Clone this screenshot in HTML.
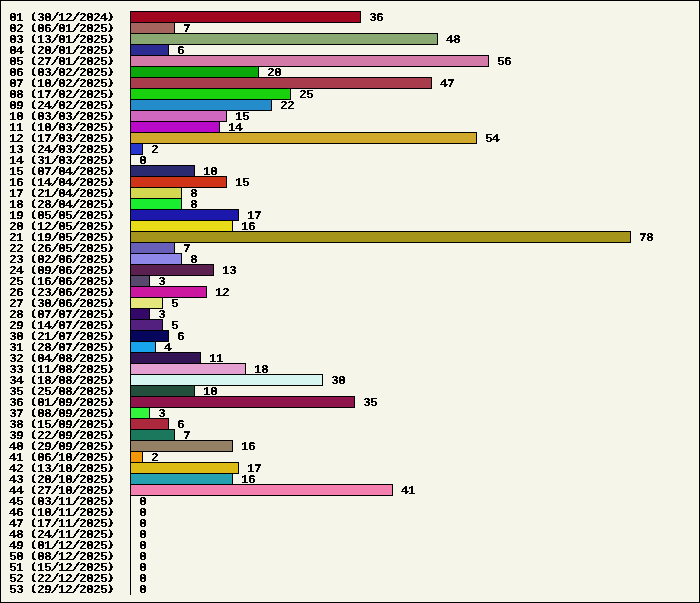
<!DOCTYPE html>
<html><head><meta charset="utf-8"><title>chart</title>
<style>
html,body{margin:0;padding:0;}
body{width:700px;height:603px;overflow:hidden;background:#f6f5e9;}
#c{position:absolute;left:0;top:0;width:700px;height:603px;box-sizing:border-box;border:1px solid #000;background:#f6f5e9;overflow:hidden;}
.b{position:absolute;left:129px;height:12px;box-sizing:border-box;border:1px solid #000;}
  .z{width:1px;border:0;background:#000;}
#tx{position:absolute;left:0;top:0;width:698px;height:601px;filter:url(#thr);}
.t,.v{position:absolute;font-family:"Liberation Mono", "DejaVu Sans Mono", monospace;font-weight:bold;font-size:12px;line-height:13px;height:13px;letter-spacing:-0.7397px;color:#000;white-space:pre;transform-origin:0 0;transform:scaleX(1.08333);text-rendering:geometricPrecision;}
.t{left:8px;}
.p{display:inline-block;transform-origin:50% 2px;transform:scale(1.2,.75);}
.q{transform:translateX(-1px) scale(1.2,.75);}
.s{display:inline-block;transform:scaleX(1.25);}
</style></head><body>
<svg width="0" height="0" style="position:absolute"><defs><filter id="thr" x="0" y="0" width="100%" height="100%" color-interpolation-filters="sRGB"><feComponentTransfer><feFuncA type="discrete" tableValues="0 0 1 1 1"/></feComponentTransfer></filter></defs></svg>
<div id="c">
<div class="b" style="top:10px;width:231px;background:#a0071e"></div>
<div class="b" style="top:21px;width:45px;background:#a5645e"></div>
<div class="b" style="top:32px;width:308px;background:#8aa872"></div>
<div class="b" style="top:43px;width:39px;background:#2b2b92"></div>
<div class="b" style="top:54px;width:359px;background:#d47aa8"></div>
<div class="b" style="top:65px;width:129px;background:#0aa80a"></div>
<div class="b" style="top:76px;width:302px;background:#a83c4c"></div>
<div class="b" style="top:87px;width:161px;background:#1ad10e"></div>
<div class="b" style="top:98px;width:142px;background:#258ccc"></div>
<div class="b" style="top:109px;width:97px;background:#d068c0"></div>
<div class="b" style="top:120px;width:90px;background:#b80ac8"></div>
<div class="b" style="top:131px;width:347px;background:#d0a82c"></div>
<div class="b" style="top:142px;width:13px;background:#2836d0"></div>
<div class="b z" style="top:153px"></div>
<div class="b" style="top:164px;width:65px;background:#2a2a70"></div>
<div class="b" style="top:175px;width:97px;background:#d03418"></div>
<div class="b" style="top:186px;width:52px;background:#d4d850"></div>
<div class="b" style="top:197px;width:52px;background:#1aec30"></div>
<div class="b" style="top:208px;width:109px;background:#1c18ac"></div>
<div class="b" style="top:219px;width:103px;background:#e8dc18"></div>
<div class="b" style="top:230px;width:501px;background:#a4941c"></div>
<div class="b" style="top:241px;width:45px;background:#6860b8"></div>
<div class="b" style="top:252px;width:52px;background:#9088e8"></div>
<div class="b" style="top:263px;width:84px;background:#5c2050"></div>
<div class="b" style="top:274px;width:20px;background:#58486e"></div>
<div class="b" style="top:285px;width:77px;background:#cc18a0"></div>
<div class="b" style="top:296px;width:33px;background:#e4e87c"></div>
<div class="b" style="top:307px;width:20px;background:#340868"></div>
<div class="b" style="top:318px;width:33px;background:#542080"></div>
<div class="b" style="top:329px;width:39px;background:#06065c"></div>
<div class="b" style="top:340px;width:26px;background:#18a4ec"></div>
<div class="b" style="top:351px;width:71px;background:#321454"></div>
<div class="b" style="top:362px;width:116px;background:#e4a0d0"></div>
<div class="b" style="top:373px;width:193px;background:#d6f7f1"></div>
<div class="b" style="top:384px;width:65px;background:#22503c"></div>
<div class="b" style="top:395px;width:225px;background:#90144c"></div>
<div class="b" style="top:406px;width:20px;background:#32f43c"></div>
<div class="b" style="top:417px;width:39px;background:#ac283c"></div>
<div class="b" style="top:428px;width:45px;background:#1c785c"></div>
<div class="b" style="top:439px;width:103px;background:#948064"></div>
<div class="b" style="top:450px;width:13px;background:#f09808"></div>
<div class="b" style="top:461px;width:109px;background:#dcbc14"></div>
<div class="b" style="top:472px;width:103px;background:#24a0b0"></div>
<div class="b" style="top:483px;width:263px;background:#f480b0"></div>
<div class="b z" style="top:494px"></div>
<div class="b z" style="top:505px"></div>
<div class="b z" style="top:516px"></div>
<div class="b z" style="top:527px"></div>
<div class="b z" style="top:538px"></div>
<div class="b z" style="top:549px"></div>
<div class="b z" style="top:560px"></div>
<div class="b z" style="top:571px"></div>
<div class="b z" style="top:582px"></div>
<div id="tx">
<div class="t" style="top:11px">01 <span class=p>(</span>30<span class=s>/</span>12<span class=s>/</span>2024<span class='p q'>)</span></div><div class="v" style="top:11px;left:368px">36</div>
<div class="t" style="top:22px">02 <span class=p>(</span>06<span class=s>/</span>01<span class=s>/</span>2025<span class='p q'>)</span></div><div class="v" style="top:22px;left:182px">7</div>
<div class="t" style="top:33px">03 <span class=p>(</span>13<span class=s>/</span>01<span class=s>/</span>2025<span class='p q'>)</span></div><div class="v" style="top:33px;left:445px">48</div>
<div class="t" style="top:44px">04 <span class=p>(</span>20<span class=s>/</span>01<span class=s>/</span>2025<span class='p q'>)</span></div><div class="v" style="top:44px;left:176px">6</div>
<div class="t" style="top:55px">05 <span class=p>(</span>27<span class=s>/</span>01<span class=s>/</span>2025<span class='p q'>)</span></div><div class="v" style="top:55px;left:496px">56</div>
<div class="t" style="top:66px">06 <span class=p>(</span>03<span class=s>/</span>02<span class=s>/</span>2025<span class='p q'>)</span></div><div class="v" style="top:66px;left:266px">20</div>
<div class="t" style="top:77px">07 <span class=p>(</span>10<span class=s>/</span>02<span class=s>/</span>2025<span class='p q'>)</span></div><div class="v" style="top:77px;left:439px">47</div>
<div class="t" style="top:88px">08 <span class=p>(</span>17<span class=s>/</span>02<span class=s>/</span>2025<span class='p q'>)</span></div><div class="v" style="top:88px;left:298px">25</div>
<div class="t" style="top:99px">09 <span class=p>(</span>24<span class=s>/</span>02<span class=s>/</span>2025<span class='p q'>)</span></div><div class="v" style="top:99px;left:279px">22</div>
<div class="t" style="top:110px">10 <span class=p>(</span>03<span class=s>/</span>03<span class=s>/</span>2025<span class='p q'>)</span></div><div class="v" style="top:110px;left:234px">15</div>
<div class="t" style="top:121px">11 <span class=p>(</span>10<span class=s>/</span>03<span class=s>/</span>2025<span class='p q'>)</span></div><div class="v" style="top:121px;left:227px">14</div>
<div class="t" style="top:132px">12 <span class=p>(</span>17<span class=s>/</span>03<span class=s>/</span>2025<span class='p q'>)</span></div><div class="v" style="top:132px;left:484px">54</div>
<div class="t" style="top:143px">13 <span class=p>(</span>24<span class=s>/</span>03<span class=s>/</span>2025<span class='p q'>)</span></div><div class="v" style="top:143px;left:150px">2</div>
<div class="t" style="top:154px">14 <span class=p>(</span>31<span class=s>/</span>03<span class=s>/</span>2025<span class='p q'>)</span></div><div class="v" style="top:154px;left:138px">0</div>
<div class="t" style="top:165px">15 <span class=p>(</span>07<span class=s>/</span>04<span class=s>/</span>2025<span class='p q'>)</span></div><div class="v" style="top:165px;left:202px">10</div>
<div class="t" style="top:176px">16 <span class=p>(</span>14<span class=s>/</span>04<span class=s>/</span>2025<span class='p q'>)</span></div><div class="v" style="top:176px;left:234px">15</div>
<div class="t" style="top:187px">17 <span class=p>(</span>21<span class=s>/</span>04<span class=s>/</span>2025<span class='p q'>)</span></div><div class="v" style="top:187px;left:189px">8</div>
<div class="t" style="top:198px">18 <span class=p>(</span>28<span class=s>/</span>04<span class=s>/</span>2025<span class='p q'>)</span></div><div class="v" style="top:198px;left:189px">8</div>
<div class="t" style="top:209px">19 <span class=p>(</span>05<span class=s>/</span>05<span class=s>/</span>2025<span class='p q'>)</span></div><div class="v" style="top:209px;left:246px">17</div>
<div class="t" style="top:220px">20 <span class=p>(</span>12<span class=s>/</span>05<span class=s>/</span>2025<span class='p q'>)</span></div><div class="v" style="top:220px;left:240px">16</div>
<div class="t" style="top:231px">21 <span class=p>(</span>19<span class=s>/</span>05<span class=s>/</span>2025<span class='p q'>)</span></div><div class="v" style="top:231px;left:638px">78</div>
<div class="t" style="top:242px">22 <span class=p>(</span>26<span class=s>/</span>05<span class=s>/</span>2025<span class='p q'>)</span></div><div class="v" style="top:242px;left:182px">7</div>
<div class="t" style="top:253px">23 <span class=p>(</span>02<span class=s>/</span>06<span class=s>/</span>2025<span class='p q'>)</span></div><div class="v" style="top:253px;left:189px">8</div>
<div class="t" style="top:264px">24 <span class=p>(</span>09<span class=s>/</span>06<span class=s>/</span>2025<span class='p q'>)</span></div><div class="v" style="top:264px;left:221px">13</div>
<div class="t" style="top:275px">25 <span class=p>(</span>16<span class=s>/</span>06<span class=s>/</span>2025<span class='p q'>)</span></div><div class="v" style="top:275px;left:157px">3</div>
<div class="t" style="top:286px">26 <span class=p>(</span>23<span class=s>/</span>06<span class=s>/</span>2025<span class='p q'>)</span></div><div class="v" style="top:286px;left:214px">12</div>
<div class="t" style="top:297px">27 <span class=p>(</span>30<span class=s>/</span>06<span class=s>/</span>2025<span class='p q'>)</span></div><div class="v" style="top:297px;left:170px">5</div>
<div class="t" style="top:308px">28 <span class=p>(</span>07<span class=s>/</span>07<span class=s>/</span>2025<span class='p q'>)</span></div><div class="v" style="top:308px;left:157px">3</div>
<div class="t" style="top:319px">29 <span class=p>(</span>14<span class=s>/</span>07<span class=s>/</span>2025<span class='p q'>)</span></div><div class="v" style="top:319px;left:170px">5</div>
<div class="t" style="top:330px">30 <span class=p>(</span>21<span class=s>/</span>07<span class=s>/</span>2025<span class='p q'>)</span></div><div class="v" style="top:330px;left:176px">6</div>
<div class="t" style="top:341px">31 <span class=p>(</span>28<span class=s>/</span>07<span class=s>/</span>2025<span class='p q'>)</span></div><div class="v" style="top:341px;left:163px">4</div>
<div class="t" style="top:352px">32 <span class=p>(</span>04<span class=s>/</span>08<span class=s>/</span>2025<span class='p q'>)</span></div><div class="v" style="top:352px;left:208px">11</div>
<div class="t" style="top:363px">33 <span class=p>(</span>11<span class=s>/</span>08<span class=s>/</span>2025<span class='p q'>)</span></div><div class="v" style="top:363px;left:253px">18</div>
<div class="t" style="top:374px">34 <span class=p>(</span>18<span class=s>/</span>08<span class=s>/</span>2025<span class='p q'>)</span></div><div class="v" style="top:374px;left:330px">30</div>
<div class="t" style="top:385px">35 <span class=p>(</span>25<span class=s>/</span>08<span class=s>/</span>2025<span class='p q'>)</span></div><div class="v" style="top:385px;left:202px">10</div>
<div class="t" style="top:396px">36 <span class=p>(</span>01<span class=s>/</span>09<span class=s>/</span>2025<span class='p q'>)</span></div><div class="v" style="top:396px;left:362px">35</div>
<div class="t" style="top:407px">37 <span class=p>(</span>08<span class=s>/</span>09<span class=s>/</span>2025<span class='p q'>)</span></div><div class="v" style="top:407px;left:157px">3</div>
<div class="t" style="top:418px">38 <span class=p>(</span>15<span class=s>/</span>09<span class=s>/</span>2025<span class='p q'>)</span></div><div class="v" style="top:418px;left:176px">6</div>
<div class="t" style="top:429px">39 <span class=p>(</span>22<span class=s>/</span>09<span class=s>/</span>2025<span class='p q'>)</span></div><div class="v" style="top:429px;left:182px">7</div>
<div class="t" style="top:440px">40 <span class=p>(</span>29<span class=s>/</span>09<span class=s>/</span>2025<span class='p q'>)</span></div><div class="v" style="top:440px;left:240px">16</div>
<div class="t" style="top:451px">41 <span class=p>(</span>06<span class=s>/</span>10<span class=s>/</span>2025<span class='p q'>)</span></div><div class="v" style="top:451px;left:150px">2</div>
<div class="t" style="top:462px">42 <span class=p>(</span>13<span class=s>/</span>10<span class=s>/</span>2025<span class='p q'>)</span></div><div class="v" style="top:462px;left:246px">17</div>
<div class="t" style="top:473px">43 <span class=p>(</span>20<span class=s>/</span>10<span class=s>/</span>2025<span class='p q'>)</span></div><div class="v" style="top:473px;left:240px">16</div>
<div class="t" style="top:484px">44 <span class=p>(</span>27<span class=s>/</span>10<span class=s>/</span>2025<span class='p q'>)</span></div><div class="v" style="top:484px;left:400px">41</div>
<div class="t" style="top:495px">45 <span class=p>(</span>03<span class=s>/</span>11<span class=s>/</span>2025<span class='p q'>)</span></div><div class="v" style="top:495px;left:138px">0</div>
<div class="t" style="top:506px">46 <span class=p>(</span>10<span class=s>/</span>11<span class=s>/</span>2025<span class='p q'>)</span></div><div class="v" style="top:506px;left:138px">0</div>
<div class="t" style="top:517px">47 <span class=p>(</span>17<span class=s>/</span>11<span class=s>/</span>2025<span class='p q'>)</span></div><div class="v" style="top:517px;left:138px">0</div>
<div class="t" style="top:528px">48 <span class=p>(</span>24<span class=s>/</span>11<span class=s>/</span>2025<span class='p q'>)</span></div><div class="v" style="top:528px;left:138px">0</div>
<div class="t" style="top:539px">49 <span class=p>(</span>01<span class=s>/</span>12<span class=s>/</span>2025<span class='p q'>)</span></div><div class="v" style="top:539px;left:138px">0</div>
<div class="t" style="top:550px">50 <span class=p>(</span>08<span class=s>/</span>12<span class=s>/</span>2025<span class='p q'>)</span></div><div class="v" style="top:550px;left:138px">0</div>
<div class="t" style="top:561px">51 <span class=p>(</span>15<span class=s>/</span>12<span class=s>/</span>2025<span class='p q'>)</span></div><div class="v" style="top:561px;left:138px">0</div>
<div class="t" style="top:572px">52 <span class=p>(</span>22<span class=s>/</span>12<span class=s>/</span>2025<span class='p q'>)</span></div><div class="v" style="top:572px;left:138px">0</div>
<div class="t" style="top:583px">53 <span class=p>(</span>29<span class=s>/</span>12<span class=s>/</span>2025<span class='p q'>)</span></div><div class="v" style="top:583px;left:138px">0</div>
</div>
</div></body></html>
